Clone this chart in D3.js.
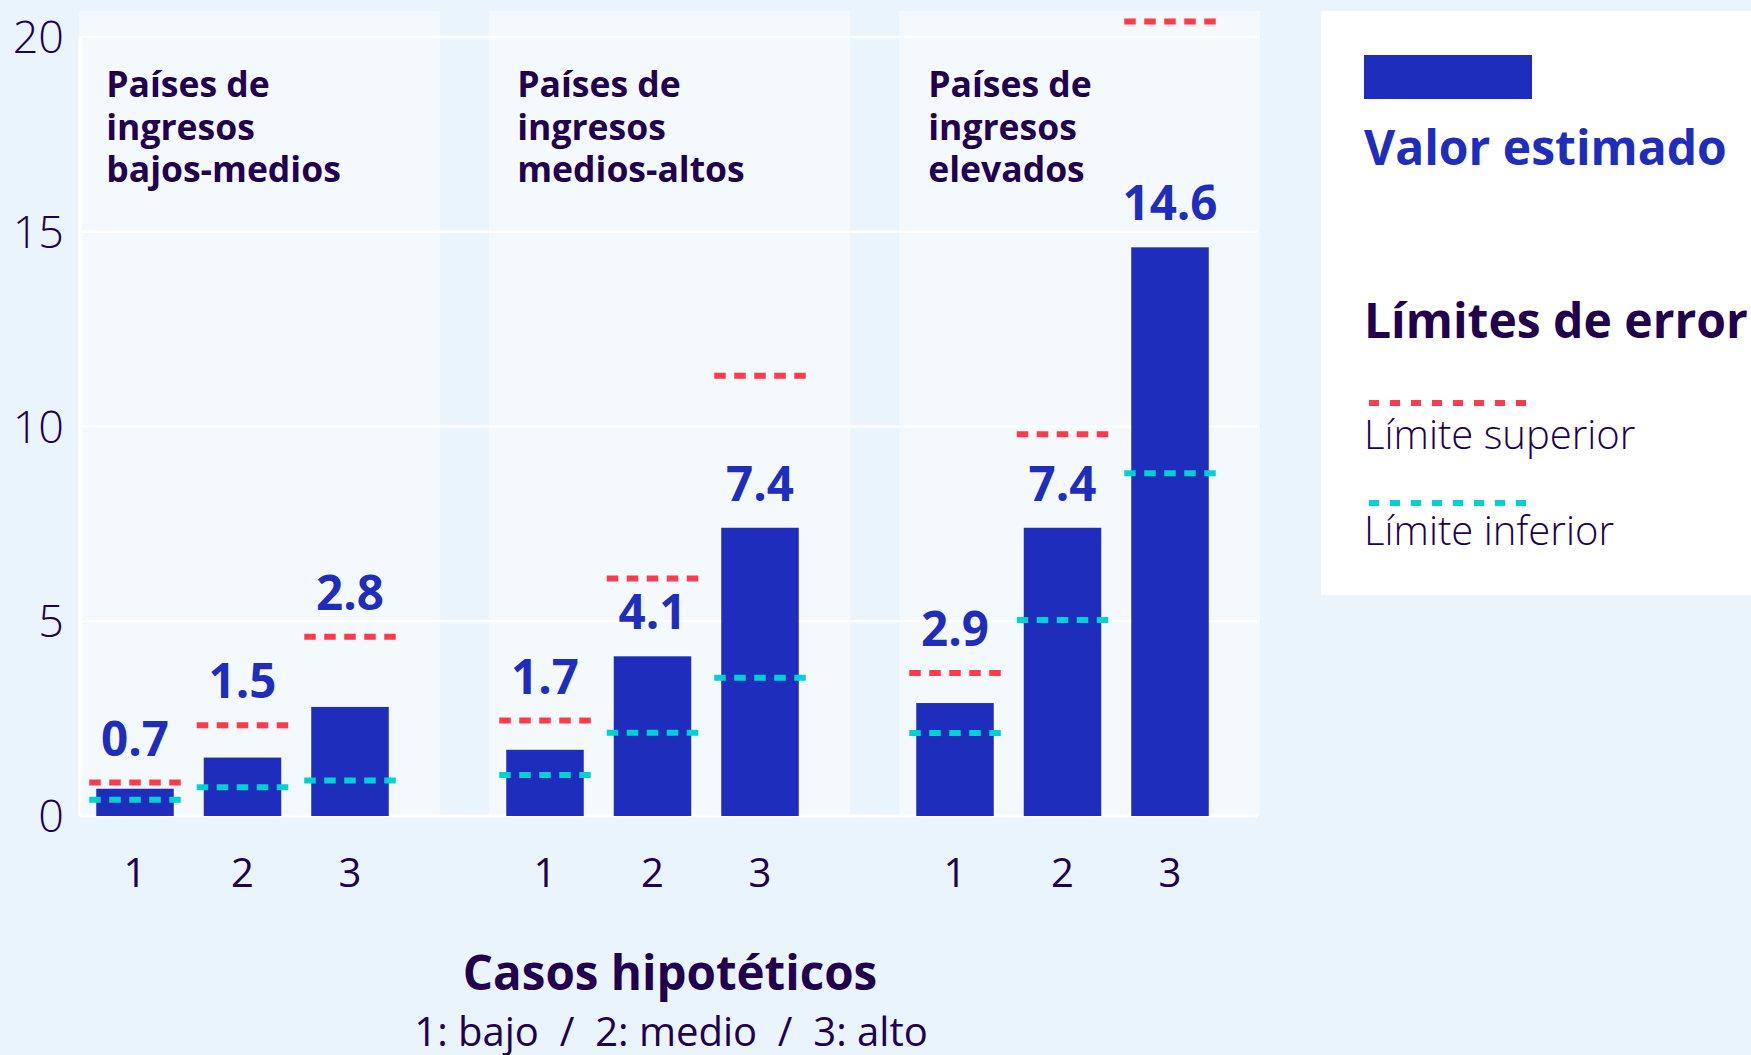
<!DOCTYPE html>
<html>
<head>
<meta charset="utf-8">
<script src="https://cdn.jsdelivr.net/npm/d3@7"></script>
<style>
  body { margin: 0; background: #eaf4fd; }
  svg { display: block; font-family: "Open Sans", "Noto Sans", sans-serif; }
</style>
</head>
<body>
<div id="chart"></div>
<script>

// data
var groups = ["bajos-medios", "medios-altos", "elevados"];
var groupTitles = [
	["Países de", "ingresos", "bajos-medios"],
	["Países de", "ingresos", "medios-altos"],
	["Países de", "ingresos", "elevados"]
];
var cases = ["1", "2", "3"];
var estimates = [[0.7, 1.5, 2.8], [1.7, 4.1, 7.4], [2.9, 7.4, 14.6]];
var upperLimits = [[0.86, 2.33, 4.6], [2.45, 6.1, 11.3], [3.67, 9.8, 20.4]];
var lowerLimits = [[0.42, 0.74, 0.91], [1.05, 2.14, 3.55], [2.13, 5.03, 8.8]];
var yTicks = [0, 5, 10, 15, 20];

function init(){

	var w = 1751;
	var h = 1055;

	var blue = "#1f2dbd";
	var red = "#ff3b4b";
	var cyan = "#00d1d3";
	var dark = "#22004d";

	var svg = d3.select("#chart")
				.append("svg")
				.attr("width", w)
				.attr("height", h);

	svg.append("rect")
		.attr("width", w)
		.attr("height", h)
		.attr("fill", "#eaf4fd");

	//scales
	var y = d3.scaleLinear()
				.domain([0, 20])
				.range([816, 37]);

	var xGroup = d3.scaleBand()
				.domain(groups)
				.range([40, 1270]);

	var xCase = d3.scaleBand()
				.domain(cases)
				.range([41.25, 363.75])
				.paddingInner(0.279)
				.paddingOuter(0.1395);

	var plotLeft = 80, plotRight = 1257;

	//flat rows for drawing
	var rows = [];
	groups.forEach(function(g, gi){
		cases.forEach(function(c, ci){
			rows.push({
				group: g, c: c,
				value: estimates[gi][ci],
				upper: upperLimits[gi][ci],
				lower: lowerLimits[gi][ci]
			});
		});
	});

	function cx(d){
		return xGroup(d.group) + xCase(d.c) + xCase.bandwidth() / 2;
	}

	//panel backgrounds
	svg.selectAll("rect.panel")
		.data(groups)
		.enter()
		.append("rect")
		.attr("class", "panel")
		.attr("x", function(g){ return xGroup(g) + xCase.range()[0] - 2; })
		.attr("y", 11)
		.attr("width", xGroup.bandwidth() - 8 - xCase.range()[0])
		.attr("height", y(0) - 11)
		.attr("fill", "#f4f9fe");

	//gridlines
	svg.selectAll("line.grid")
		.data(yTicks)
		.enter()
		.append("line")
		.attr("x1", plotLeft)
		.attr("x2", plotRight)
		.attr("y1", function(d){ return y(d); })
		.attr("y2", function(d){ return y(d); })
		.attr("stroke", "#ffffff")
		.attr("stroke-width", function(d){ return d === 0 ? 3.5 : 2.5; });

	//y axis line
	svg.append("line")
		.attr("x1", plotLeft)
		.attr("x2", plotLeft)
		.attr("y1", y(20))
		.attr("y2", y(0))
		.attr("stroke", "#ffffff")
		.attr("stroke-width", 3.5);

	//y tick labels
	svg.selectAll("text.ytick")
		.data(yTicks)
		.enter()
		.append("text")
		.attr("x", 64)
		.attr("y", function(d){ return y(d); })
		.attr("dy", "0.36em")
		.attr("text-anchor", "end")
		.attr("font-size", 45)
		.attr("font-weight", 300)
		.attr("fill", dark)
		.text(function(d){ return d; });

	//bars
	svg.selectAll("rect.bar")
		.data(rows)
		.enter()
		.append("rect")
		.attr("class", "bar")
		.attr("x", function(d){ return xGroup(d.group) + xCase(d.c); })
		.attr("y", function(d){ return y(d.value); })
		.attr("width", xCase.bandwidth())
		.attr("height", function(d){ return y(0) - y(d.value); })
		.attr("fill", blue);

	//error limit dashes
	var half = xCase.bandwidth() / 2 + 7;
	[["upper", red], ["lower", cyan]].forEach(function(s){
		svg.selectAll("line." + s[0])
			.data(rows)
			.enter()
			.append("line")
			.attr("class", s[0])
			.attr("x1", function(d){ return cx(d) - half; })
			.attr("x2", function(d){ return cx(d) + half; })
			.attr("y1", function(d){ return y(d[s[0]]); })
			.attr("y2", function(d){ return y(d[s[0]]); })
			.attr("stroke", s[1])
			.attr("stroke-width", 6)
			.attr("stroke-dasharray", "11.5,8.5");
	});

	//value labels, above the upper limit when it sits close to the bar
	svg.selectAll("text.val")
		.data(rows)
		.enter()
		.append("text")
		.attr("x", cx)
		.attr("y", function(d){
			var ref = (y(d.value) - y(d.upper)) < 75 ? d.upper : d.value;
			return y(ref) - 27;
		})
		.attr("text-anchor", "middle")
		.attr("font-size", 47.5)
		.attr("font-weight", 700)
		.attr("fill", blue)
		.text(function(d){ return d3.format(".1f")(d.value); });

	//panel titles
	var titles = svg.selectAll("text.gtitle")
		.data(groups)
		.enter()
		.append("text")
		.attr("x", function(g, i){ return xGroup(g) + xCase.range()[0] + 25 + i; })
		.attr("y", 97)
		.attr("font-size", 35.5)
		.attr("font-weight", 700)
		.attr("fill", dark);

	titles.selectAll("tspan")
		.data(function(g, i){ return groupTitles[i]; })
		.enter()
		.append("tspan")
		.attr("x", function(){ return d3.select(this.parentNode).attr("x"); })
		.attr("dy", function(d, i){ return i === 0 ? 0 : 42.5; })
		.text(function(d){ return d; });

	//x tick labels
	svg.selectAll("text.xtick")
		.data(rows)
		.enter()
		.append("text")
		.attr("x", cx)
		.attr("y", 887)
		.attr("text-anchor", "middle")
		.attr("font-size", 40)
		.attr("fill", dark)
		.text(function(d){ return d.c; });

	//x axis title
	svg.append("text")
		.attr("x", 670)
		.attr("y", 990)
		.attr("text-anchor", "middle")
		.attr("font-size", 47.5)
		.attr("font-weight", 700)
		.attr("fill", dark)
		.text("Casos hipotéticos");

	svg.append("text")
		.attr("x", 671)
		.attr("y", 1046)
		.attr("text-anchor", "middle")
		.attr("font-size", 40)
		.attr("fill", dark)
		.style("white-space", "pre")
		.text("1: bajo  /  2: medio  /  3: alto");

	//legend
	var lg = svg.append("g")
				.attr("transform", "translate(1321,11)");

	lg.append("rect")
		.attr("width", 430)
		.attr("height", 584)
		.attr("fill", "#ffffff");

	lg.append("rect")
		.attr("x", 43)
		.attr("y", 44)
		.attr("width", 168)
		.attr("height", 44)
		.attr("fill", blue);

	lg.append("text")
		.attr("x", 43)
		.attr("y", 154)
		.attr("font-size", 48)
		.attr("font-weight", 700)
		.attr("fill", blue)
		.text("Valor estimado");

	lg.append("text")
		.attr("x", 43)
		.attr("y", 327)
		.attr("font-size", 48)
		.attr("font-weight", 700)
		.attr("fill", dark)
		.text("Límites de error");

	var legendItems = [["Límite superior", red, 392, 438], ["Límite inferior", cyan, 492, 534]];
	legendItems.forEach(function(it){
		lg.append("line")
			.attr("x1", 43)
			.attr("x2", 211)
			.attr("y1", it[2])
			.attr("y2", it[2])
			.attr("stroke", it[1])
			.attr("stroke-width", 6)
			.attr("stroke-dasharray", "10,11")
			.attr("stroke-dashoffset", 16);
		lg.append("text")
			.attr("x", 43)
			.attr("y", it[3])
			.attr("font-size", 40)
			.attr("font-weight", 300)
			.attr("fill", dark)
			.text(it[0]);
	});
}

window.onload = init;
</script>
</body>
</html>
